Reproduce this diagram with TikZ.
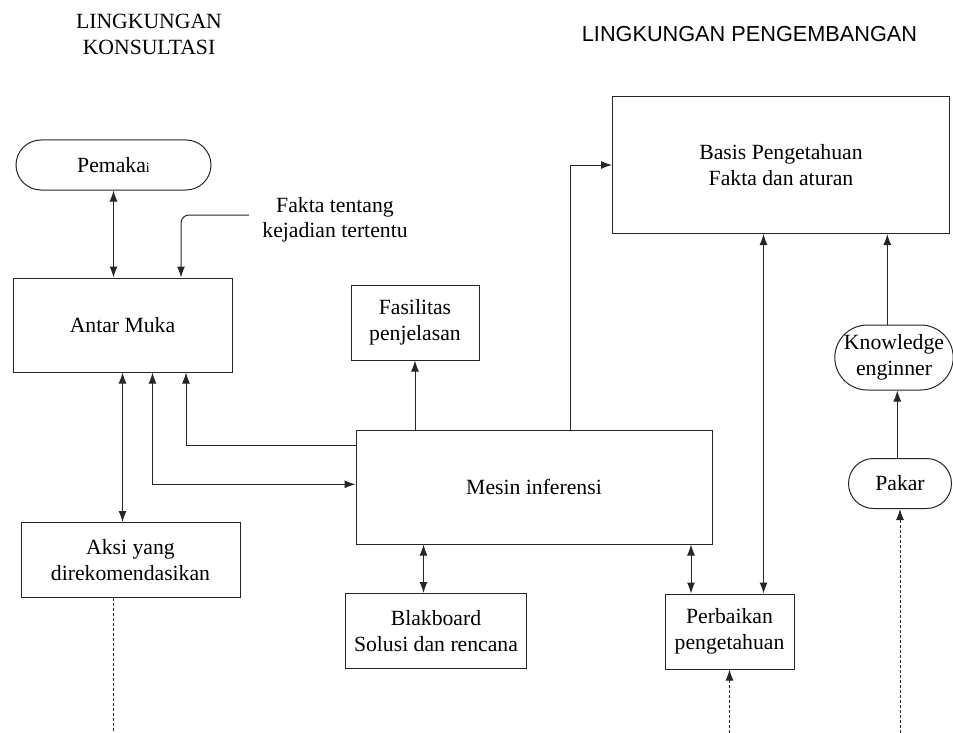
\documentclass[tikz,border=0pt]{standalone}
\usepackage{fontspec}
\setmainfont{Liberation Serif}
\newfontfamily\judulsans{Liberation Sans}
\usetikzlibrary{arrows.meta,shapes.misc}
\colorlet{garis}{black!85}

\begin{document}
\begin{tikzpicture}[x=1pt,y=-1pt,font=\fontsize{21.7}{25.5}\selectfont,
    kotak/.style={draw=garis,line width=1pt,inner sep=0pt,align=center},
    kapsul/.style={rounded rectangle,draw=garis,line width=1pt,inner sep=0pt,align=center},
    panah/.style={garis,line width=1pt,-{Latex[length=11pt,width=8pt]}},
    panahdua/.style={garis,line width=1pt,{Latex[length=11pt,width=8pt]}-{Latex[length=11pt,width=8pt]}},
    putus/.style={garis,line width=1pt,dash pattern=on 3pt off 2pt}]
    \useasboundingbox (0,0) rectangle (953,733);
    % judul kedua lingkungan
    \node[align=center] (konsul) at (149,34.5) {LINGKUNGAN\\KONSULTASI};
    \node (kembang) at (749.5,34) {\judulsans LINGKUNGAN PENGEMBANGAN};
    % kotak dan kapsul
    \node[kapsul,minimum width=195,minimum height=50] (pemakai) at (113.5,165) {Pemaka{\fontsize{14}{14}\selectfont i}};
    \node[align=center] (fakta) at (335,220) {Fakta tentang\\kejadian tertentu};
    \node[kotak,minimum width=219,minimum height=94] (antar) at (122.5,325) {Antar Muka};
    \node[kotak,minimum width=219,minimum height=75] (aksi) at (130.5,560) {Aksi yang\\direkomendasikan};
    \node[kotak,minimum width=128,minimum height=75] (fasil) at (415,322.5) {Fasilitas\\penjelasan};
    \node[kotak,minimum width=356,minimum height=114] (mesin) at (534,487) {Mesin inferensi};
    \node[kotak,minimum width=181,minimum height=75] (blak) at (436,631) {Blakboard\\Solusi dan rencana};
    \node[kotak,minimum width=129,minimum height=75] (perbaikan) at (729.5,631.5) {Perbaikan\\pengetahuan};
    \node[kotak,minimum width=337,minimum height=137] (basis) at (781,165) {Basis Pengetahuan\\Fakta dan aturan};
    \node[kapsul,minimum width=116,minimum height=65] (knowledge) at (894,357.5) {Knowledge\\enginner};
    \node[kapsul,minimum width=103,minimum height=50] (pakar) at (900,483.5) {Pakar};
    % ujung bebas garis putus-putus
    \coordinate (bawahaksi) at (113.7,733);
    \coordinate (bawahperb) at (729.5,733);
    \coordinate (bawahpakar) at (900,733);
    % penghubung
    \draw[panahdua] (pemakai.south) -- (pemakai.south |- antar.north);
    \draw[panah,rounded corners=8pt] ([xshift=-10pt,yshift=5pt]fakta.west) -| ([xshift=58.5pt]antar.north);
    \draw[panahdua] (antar.south) -- (antar.south |- aksi.north);
    \draw[panahdua] ([xshift=30pt]antar.south) |- ([yshift=2.7pt]mesin.west);
    \draw[panah] ([yshift=42pt]mesin.west) -| ([xshift=63.5pt]antar.south);
    \draw[panah] (mesin.north -| fasil.south) -- (fasil.south);
    \draw[panah] ([xshift=36.7pt]mesin.north) |- (basis.west);
    \draw[panahdua] ([xshift=-12.5pt]mesin.south -| blak.north) -- ([xshift=-12.5pt]blak.north);
    \draw[panahdua] ([xshift=-38.5pt]mesin.south -| perbaikan.north) -- ([xshift=-38.5pt]perbaikan.north);
    \draw[panahdua] ([xshift=34pt]perbaikan.north |- basis.south) -- ([xshift=34pt]perbaikan.north);
    \draw[panah] ([xshift=-6.7pt]knowledge.north) -- ([xshift=-6.7pt]knowledge.north |- basis.south);
    \draw[panah] ([xshift=-2.7pt]pakar.north) -- ([xshift=-2.7pt]pakar.north |- knowledge.south);
    \draw[putus] (bawahaksi |- aksi.south) -- (bawahaksi);
    \draw[putus,-{Latex[length=11pt,width=8pt]}] (bawahperb) -- (perbaikan.south);
    \draw[putus,-{Latex[length=11pt,width=8pt]}] (bawahpakar) -- (pakar.south);
\end{tikzpicture}
\end{document}
